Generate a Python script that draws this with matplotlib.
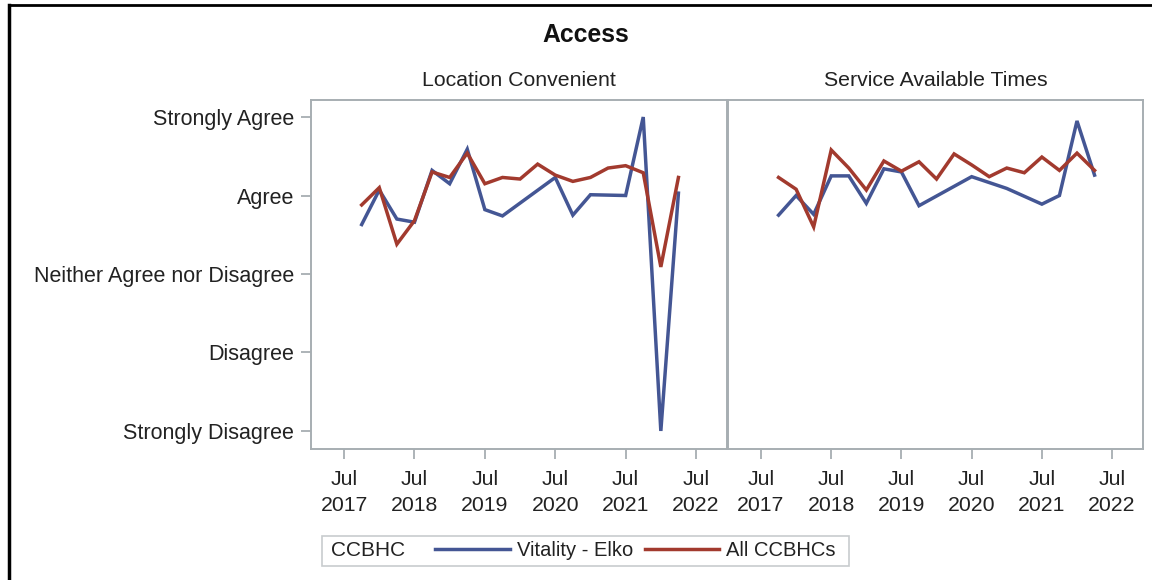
import matplotlib
matplotlib.use("Agg")
import matplotlib.pyplot as plt
from matplotlib.lines import Line2D
from matplotlib.patches import Rectangle

plt.rcParams['font.family'] = ['Liberation Sans', 'DejaVu Sans']

# quarterly survey periods
quarters = ['2017-10', '2018-01', '2018-04', '2018-07', '2018-10', '2019-01', '2019-04',
            '2019-07', '2019-10', '2020-01', '2020-04', '2020-07', '2020-10', '2021-01',
            '2021-04', '2021-07', '2021-10', '2022-01', '2022-04']

# 1 = Strongly Disagree ... 5 = Strongly Agree, None = no data that quarter
loc_vitality = [3.63, 4.07, 3.70, 3.66, 4.32, 4.15, 4.59, 3.82, 3.74, None, None,
                4.23, 3.75, 4.01, None, 4.00, 5.00, 1.00, 4.03]
loc_all = [3.88, 4.10, 3.38, 3.68, 4.30, 4.23, 4.54, 4.15, 4.23, 4.21, 4.40,
           4.26, 4.18, 4.23, 4.35, 4.38, 4.29, 3.09, 4.23]
svc_vitality = [3.75, 4.00, 3.76, 4.25, 4.25, 3.90, 4.34, 4.30, 3.87, None, None,
                4.24, None, 4.09, None, 3.89, 4.00, 4.95, 4.26]
svc_all = [4.23, 4.08, 3.60, 4.58, 4.35, 4.07, 4.44, 4.31, 4.43, 4.21, 4.53,
           4.39, 4.24, 4.35, 4.29, 4.49, 4.32, 4.54, 4.32]

panel_titles = ['Location Convenient', 'Service Available Times']
series_names = ['Vitality - Elko', 'All CCBHCs']
likert = ['Strongly Disagree', 'Disagree', 'Neither Agree nor Disagree', 'Agree', 'Strongly Agree']
tick_years = [2017, 2018, 2019, 2020, 2021, 2022]

BLUE = '#445694'
RED = '#A23A2E'
GREY = '#A7AEB2'
TXT = '#222222'


def to_year(q):
    y, m = q.split('-')
    return int(y) + (int(m) - 1) / 12.0


def pairs(vals):
    xs, ys = [], []
    for q, v in zip(quarters, vals):
        if v is not None:
            xs.append(to_year(q))
            ys.append(v)
    return xs, ys


W, H = 1152, 580
fig = plt.figure(figsize=(W / 100, H / 100), dpi=100)

def px_axes(x0, x1, y0, y1):
    return fig.add_axes([x0 / W, 1 - y1 / H, (x1 - x0) / W, (y1 - y0) / H])

ax1 = px_axes(311, 727, 100, 449)
ax2 = px_axes(728, 1143, 100, 449)

data = [(loc_vitality, loc_all), (svc_vitality, svc_all)]
for i, ax in enumerate([ax1, ax2]):
    vit, allc = data[i]
    x, y = pairs(vit)
    ax.plot(x, y, color=BLUE, lw=2.5, solid_joinstyle='miter')
    x, y = pairs(allc)
    ax.plot(x, y, color=RED, lw=2.5, solid_joinstyle='miter')

    ax.set_xlim(2017.03, 2022.94)
    ax.set_ylim(0.77, 5.217)
    ax.set_xticks([yr + 0.5 for yr in tick_years])
    ax.set_xticklabels(['Jul\n%d' % yr for yr in tick_years], fontsize=15.3, linespacing=1.5)
    ax.set_yticks([1, 2, 3, 4, 5])
    for s in ax.spines.values():
        s.set_color(GREY)
        s.set_linewidth(1.4)
    ax.tick_params(axis='x', length=7, width=1.3, color=GREY, pad=8, labelcolor=TXT)
    ax.set_title(panel_titles[i], fontsize=15.3, pad=10, color=TXT)

ax1.set_yticklabels(likert, fontsize=15.5, color=TXT)
ax1.tick_params(axis='y', length=7, width=1.3, color=GREY, pad=5)
ax2.set_yticklabels([])
ax2.tick_params(axis='y', length=0)

fig.text(586 / W, 1 - 35 / H, 'Access', ha='center', va='center',
         fontsize=17.8, fontweight='bold', color='#111111')

# legend
fig.add_artist(Rectangle((322 / W, 1 - 566 / H), (849 - 322) / W, 30 / H,
                         transform=fig.transFigure, fill=False, ec='#C8CCCE', lw=1.2))
fig.text(331 / W, 1 - 551 / H, 'CCBHC', ha='left', va='center', fontsize=15, color=TXT)
handles = [Line2D([], [], color=BLUE, lw=2.5), Line2D([], [], color=RED, lw=2.5)]
fig.legend(handles, series_names, loc='center left', bbox_to_anchor=(435 / W, 1 - 551 / H),
           ncol=2, frameon=False, fontsize=14.5, handlelength=3.7, handletextpad=0.35,
           columnspacing=0.6, borderpad=0, borderaxespad=0, labelcolor=TXT)

# outer frame (left and top edges visible in the crop)
fig.add_artist(Line2D([9 / W, 9 / W], [0, 1 - 5 / H], transform=fig.transFigure, color='black', lw=2.5))
fig.add_artist(Line2D([9 / W, 1], [1 - 5 / H, 1 - 5 / H], transform=fig.transFigure, color='black', lw=2.0))

fig.savefig('out.png', dpi=100)
